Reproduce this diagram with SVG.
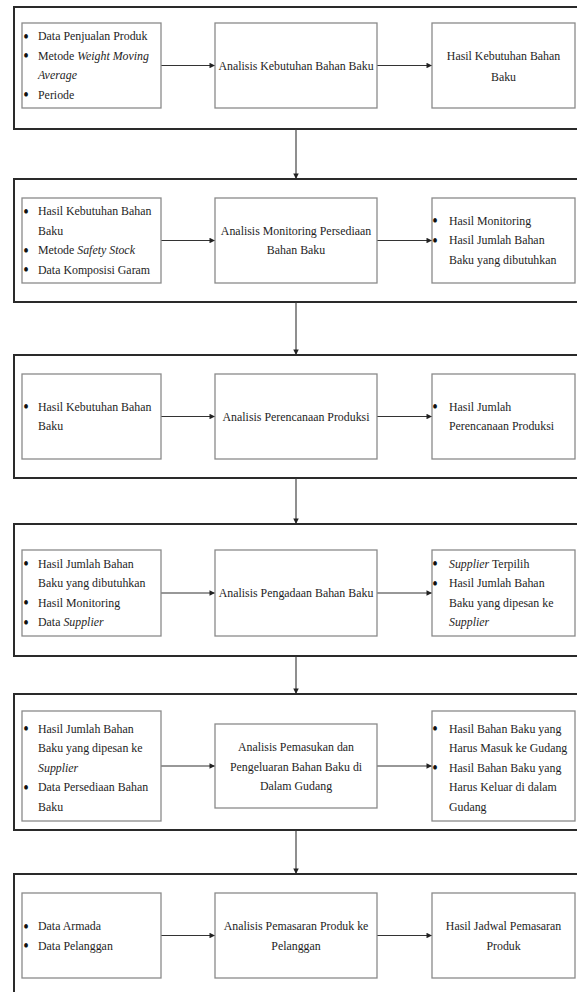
<svg xmlns="http://www.w3.org/2000/svg" width="577" height="992" viewBox="0 0 577 992">
  <style>
    .stage { fill: none; stroke: #2a2a2a; stroke-width: 2; }
    .box { fill: #ffffff; stroke: #8a8a8a; stroke-width: 1.3; }
    .link { fill: none; stroke: #333333; stroke-width: 1.1; }
    text { font-family: "Liberation Serif", "Times New Roman", serif; font-size: 13.5px; fill: #1e1e1e; }
    .b { font-size: 18px; fill: #111111; }
    .c { text-anchor: middle; }
    .i { font-style: italic; }
  </style>
  <defs>
    <marker id="head" viewBox="0 0 8 8" refX="8" refY="4" markerWidth="6" markerHeight="5.5" markerUnits="userSpaceOnUse" orient="auto">
      <path d="M0,0 L8,4 L0,8 Z" fill="#222222"/>
    </marker>
  </defs>
  <rect width="577" height="992" fill="#ffffff"/>

  <!-- stage frames (right side runs past the page edge) -->
  <g id="stages">
    <rect class="stage" x="14" y="7" width="600" height="122"/>
    <rect class="stage" x="14" y="179" width="600" height="123"/>
    <rect class="stage" x="14" y="355" width="600" height="123"/>
    <rect class="stage" x="14" y="524" width="600" height="132"/>
    <rect class="stage" x="14" y="694" width="600" height="136"/>
    <rect class="stage" x="14" y="874" width="600" height="200"/>
  </g>

  <!-- connectors -->
  <g id="connectors">
    <line class="link" x1="296" y1="129" x2="296" y2="179" marker-end="url(#head)"/>
    <line class="link" x1="296" y1="302" x2="296" y2="355" marker-end="url(#head)"/>
    <line class="link" x1="296" y1="478" x2="296" y2="524" marker-end="url(#head)"/>
    <line class="link" x1="296" y1="656" x2="296" y2="694" marker-end="url(#head)"/>
    <line class="link" x1="296" y1="830" x2="296" y2="874" marker-end="url(#head)"/>

    <line class="link" x1="161" y1="65.5" x2="215" y2="65.5" marker-end="url(#head)"/>
    <line class="link" x1="377" y1="65.5" x2="432" y2="65.5" marker-end="url(#head)"/>
    <line class="link" x1="161" y1="240.5" x2="215" y2="240.5" marker-end="url(#head)"/>
    <line class="link" x1="377" y1="240.5" x2="432" y2="240.5" marker-end="url(#head)"/>
    <line class="link" x1="161" y1="416.5" x2="215" y2="416.5" marker-end="url(#head)"/>
    <line class="link" x1="377" y1="416.5" x2="432" y2="416.5" marker-end="url(#head)"/>
    <line class="link" x1="161" y1="593" x2="215" y2="593" marker-end="url(#head)"/>
    <line class="link" x1="377" y1="593" x2="432" y2="593" marker-end="url(#head)"/>
    <line class="link" x1="161" y1="766" x2="215" y2="766" marker-end="url(#head)"/>
    <line class="link" x1="377" y1="766" x2="432" y2="766" marker-end="url(#head)"/>
    <line class="link" x1="161" y1="935.5" x2="215" y2="935.5" marker-end="url(#head)"/>
    <line class="link" x1="377" y1="935.5" x2="432" y2="935.5" marker-end="url(#head)"/>
  </g>

  <!-- Text groups use scale(0.88 1): local x = page x / 0.88.
       bullets left 26.4, text left 43.2, centre 336.4,
       bullets right 491.1, text right 510.2, right centre 572.2 -->

  <!-- stage 1 -->
  <g id="input-1">
    <rect class="box" x="22" y="23" width="139" height="85"/>
    <g transform="scale(0.88 1)">
      <text class="b" x="26.4" y="42.75">•</text><text x="43.2" y="40.25">Data Penjualan Produk</text>
      <text class="b" x="26.4" y="62.25">•</text><text x="43.2" y="59.75">Metode <tspan class="i">Weight Moving</tspan></text>
      <text x="43.2" y="79.25" class="i">Average</text>
      <text class="b" x="26.4" y="101.25">•</text><text x="43.2" y="98.75">Periode</text>
    </g>
  </g>
  <g id="process-1">
    <rect class="box" x="215" y="23" width="162" height="85"/>
    <g transform="scale(0.88 1)">
      <text class="c" x="336.4" y="70">Analisis Kebutuhan Bahan Baku</text>
    </g>
  </g>
  <g id="output-1">
    <rect class="box" x="432" y="23" width="143" height="85"/>
    <g transform="scale(0.88 1)">
      <text class="c" x="572.2" y="59.75">Hasil Kebutuhan Bahan</text>
      <text class="c" x="572.2" y="81">Baku</text>
    </g>
  </g>

  <!-- stage 2 -->
  <g id="input-2">
    <rect class="box" x="22" y="198" width="139" height="85"/>
    <g transform="scale(0.88 1)">
      <text class="b" x="26.4" y="217.75">•</text><text x="43.2" y="215.25">Hasil Kebutuhan Bahan</text>
      <text x="43.2" y="234.75">Baku</text>
      <text class="b" x="26.4" y="256.75">•</text><text x="43.2" y="254.25">Metode <tspan class="i">Safety Stock</tspan></text>
      <text class="b" x="26.4" y="276.25">•</text><text x="43.2" y="273.75">Data Komposisi Garam</text>
    </g>
  </g>
  <g id="process-2">
    <rect class="box" x="215" y="198" width="162" height="85"/>
    <g transform="scale(0.88 1)">
      <text class="c" x="336.4" y="234.75">Analisis Monitoring Persediaan</text>
      <text class="c" x="336.4" y="254.25">Bahan Baku</text>
    </g>
  </g>
  <g id="output-2">
    <rect class="box" x="432" y="198" width="143" height="85"/>
    <g transform="scale(0.88 1)">
      <text class="b" x="491.1" y="227.5">•</text><text x="510.2" y="225">Hasil Monitoring</text>
      <text class="b" x="491.1" y="247">•</text><text x="510.2" y="244.5">Hasil Jumlah Bahan</text>
      <text x="510.2" y="264">Baku yang dibutuhkan</text>
    </g>
  </g>

  <!-- stage 3 -->
  <g id="input-3">
    <rect class="box" x="22" y="374" width="139" height="85"/>
    <g transform="scale(0.88 1)">
      <text class="b" x="26.4" y="413.25">•</text><text x="43.2" y="410.75">Hasil Kebutuhan Bahan</text>
      <text x="43.2" y="430.25">Baku</text>
    </g>
  </g>
  <g id="process-3">
    <rect class="box" x="215" y="374" width="162" height="85"/>
    <g transform="scale(0.88 1)">
      <text class="c" x="336.4" y="421">Analisis Perencanaan Produksi</text>
    </g>
  </g>
  <g id="output-3">
    <rect class="box" x="432" y="374" width="143" height="85"/>
    <g transform="scale(0.88 1)">
      <text class="b" x="491.1" y="413.25">•</text><text x="510.2" y="410.75">Hasil Jumlah</text>
      <text x="510.2" y="430.25">Perencanaan Produksi</text>
    </g>
  </g>

  <!-- stage 4 -->
  <g id="input-4">
    <rect class="box" x="22" y="550" width="139" height="86"/>
    <g transform="scale(0.88 1)">
      <text class="b" x="26.4" y="570.25">•</text><text x="43.2" y="567.75">Hasil Jumlah Bahan</text>
      <text x="43.2" y="587.25">Baku yang dibutuhkan</text>
      <text class="b" x="26.4" y="609.25">•</text><text x="43.2" y="606.75">Hasil Monitoring</text>
      <text class="b" x="26.4" y="628.75">•</text><text x="43.2" y="626.25">Data <tspan class="i">Supplier</tspan></text>
    </g>
  </g>
  <g id="process-4">
    <rect class="box" x="215" y="550" width="162" height="86"/>
    <g transform="scale(0.88 1)">
      <text class="c" x="336.4" y="597.5">Analisis Pengadaan Bahan Baku</text>
    </g>
  </g>
  <g id="output-4">
    <rect class="box" x="432" y="550" width="143" height="86"/>
    <g transform="scale(0.88 1)">
      <text class="b" x="491.1" y="570.25">•</text><text x="510.2" y="567.75"><tspan class="i">Supplier</tspan> Terpilih</text>
      <text class="b" x="491.1" y="589.75">•</text><text x="510.2" y="587.25">Hasil Jumlah Bahan</text>
      <text x="510.2" y="606.75">Baku yang dipesan ke</text>
      <text x="510.2" y="626.25" class="i">Supplier</text>
    </g>
  </g>

  <!-- stage 5 -->
  <g id="input-5">
    <rect class="box" x="22" y="711" width="139" height="110"/>
    <g transform="scale(0.88 1)">
      <text class="b" x="26.4" y="735.5">•</text><text x="43.2" y="733">Hasil Jumlah Bahan</text>
      <text x="43.2" y="752.5">Baku yang dipesan ke</text>
      <text x="43.2" y="772" class="i">Supplier</text>
      <text class="b" x="26.4" y="794">•</text><text x="43.2" y="791.5">Data Persediaan Bahan</text>
      <text x="43.2" y="811">Baku</text>
    </g>
  </g>
  <g id="process-5">
    <rect class="box" x="215" y="724" width="162" height="84"/>
    <g transform="scale(0.88 1)">
      <text class="c" x="336.4" y="751.5">Analisis Pemasukan dan</text>
      <text class="c" x="336.4" y="771">Pengeluaran Bahan Baku di</text>
      <text class="c" x="336.4" y="790.5">Dalam Gudang</text>
    </g>
  </g>
  <g id="output-5">
    <rect class="box" x="432" y="711" width="143" height="110"/>
    <g transform="scale(0.88 1)">
      <text class="b" x="491.1" y="735.5">•</text><text x="510.2" y="733">Hasil Bahan Baku yang</text>
      <text x="510.2" y="752.5">Harus Masuk ke Gudang</text>
      <text class="b" x="491.1" y="774.5">•</text><text x="510.2" y="772">Hasil Bahan Baku yang</text>
      <text x="510.2" y="791.5">Harus Keluar di dalam</text>
      <text x="510.2" y="811">Gudang</text>
    </g>
  </g>

  <!-- stage 6 -->
  <g id="input-6">
    <rect class="box" x="22" y="893" width="139" height="85"/>
    <g transform="scale(0.88 1)">
      <text class="b" x="26.4" y="933">•</text><text x="43.2" y="930.5">Data Armada</text>
      <text class="b" x="26.4" y="952.5">•</text><text x="43.2" y="950">Data Pelanggan</text>
    </g>
  </g>
  <g id="process-6">
    <rect class="box" x="215" y="893" width="162" height="85"/>
    <g transform="scale(0.88 1)">
      <text class="c" x="336.4" y="930.5">Analisis Pemasaran Produk ke</text>
      <text class="c" x="336.4" y="950">Pelanggan</text>
    </g>
  </g>
  <g id="output-6">
    <rect class="box" x="432" y="893" width="143" height="85"/>
    <g transform="scale(0.88 1)">
      <text class="c" x="572.2" y="930.5">Hasil Jadwal Pemasaran</text>
      <text class="c" x="572.2" y="950">Produk</text>
    </g>
  </g>
</svg>
